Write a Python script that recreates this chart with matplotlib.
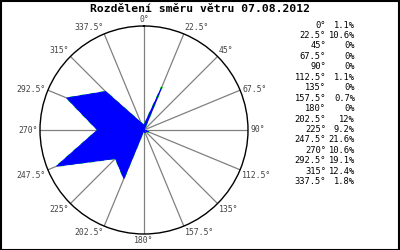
import numpy as np
import matplotlib.pyplot as plt
from matplotlib.patches import Rectangle

# wind direction sectors (deg) and share of time (%)
directions = [0, 22.5, 45, 67.5, 90, 112.5, 135, 157.5,
              180, 202.5, 225, 247.5, 270, 292.5, 315, 337.5]
shares = [1.1, 10.6, 0, 0, 0, 1.1, 0, 0.7,
          0, 12, 9.2, 21.6, 10.6, 19.1, 12.4, 1.8]
title = "Rozdělení směru větru 07.08.2012"


def angle_label(a):
    return f"{a:g}°"


fig = plt.figure(figsize=(4, 2.5), dpi=100)
fig.patch.set_facecolor("white")

# polar axes placed so the circle sits at the same pixels as the reference
ax = fig.add_axes([40 / 400, 16 / 250, 208 / 400, 208 / 250], polar=True)
ax.set_theta_zero_location("N")
ax.set_theta_direction(-1)
rmax = 1.1 * max(shares)
ax.set_ylim(0, rmax)
ax.set_yticks([])
ax.set_thetagrids(directions, labels=[""] * len(directions))
ax.xaxis.grid(True, color="#808080", linewidth=0.9)
ax.set_axisbelow(True)
ax.spines["polar"].set_color("black")
ax.spines["polar"].set_linewidth(1.0)
ax.tick_params(axis="x", length=0, pad=0)

theta = np.deg2rad(directions + [directions[0]])
r = shares + [shares[0]]
ax.plot(theta, r, color="#00ff00", linewidth=1.2, linestyle=(0, (3, 3)), zorder=2)
ax.fill(theta, r, facecolor="#0000ff", edgecolor="#0000ff", linewidth=0.7, zorder=3)

# angle labels around the circle
for a in directions:
    s, c = np.sin(np.deg2rad(a)), np.cos(np.deg2rad(a))
    ha = "left" if s > 0.01 else ("right" if s < -0.01 else "center")
    va = "bottom" if c > 0.5 else ("top" if c < -0.3 else "center")
    ax.text(np.deg2rad(a), rmax * 1.02, angle_label(a), ha=ha, va=va,
            fontsize=5.9, family="DejaVu Sans Mono", color="#444444",
            clip_on=False)

fig.text(0.5, 1 - 9 / 250, title, ha="center", va="center",
         fontsize=8.2, fontweight="bold", family="DejaVu Sans Mono")

# legend table on the right
for i, (a, v) in enumerate(zip(directions, shares)):
    y = 1 - (25 + 10.45 * i) / 250
    fig.text(326 / 400, y, angle_label(a), ha="right", va="center",
             fontsize=6.3, family="DejaVu Sans Mono")
    fig.text(355 / 400, y, f"{v:g}%", ha="right", va="center",
             fontsize=6.3, family="DejaVu Sans Mono")

fig.patches.append(Rectangle((0.5 / 400, 0.5 / 250), 398.5 / 400, 248.5 / 250,
                             transform=fig.transFigure, fill=False,
                             edgecolor="black", linewidth=1.5))

fig.savefig("out.png", dpi=100)
